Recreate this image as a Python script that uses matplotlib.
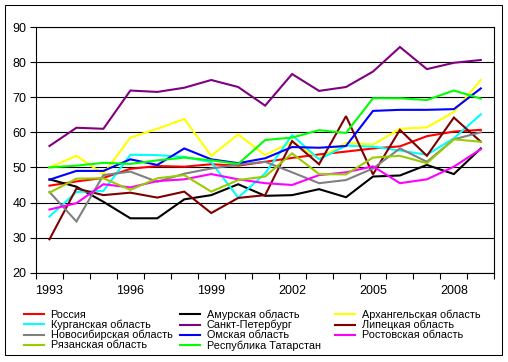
#!/usr/bin/env python3
"""Line chart: regional indicator, 1993-2009."""
import matplotlib
matplotlib.use('Agg')
import matplotlib.pyplot as plt
from matplotlib.lines import Line2D
from matplotlib.patches import Rectangle

plt.rcParams['font.family'] = ['Liberation Sans', 'DejaVu Sans']

years = list(range(1993, 2010))
tick_years = [1993, 1996, 1999, 2002, 2005, 2008]

names = ['Россия', 'Амурская область', 'Архангельская область',
         'Курганская область', 'Санкт-Петербург', 'Липецкая область',
         'Новосибирская область', 'Омская область', 'Ростовская область',
         'Рязанская область', 'Республика Татарстан']

russia   = [44.8, 46.0, 47.0, 49.6, 50.4, 50.2, 50.9, 50.5, 51.6, 52.7, 53.7, 54.5, 55.4, 56.0, 58.9, 60.2, 60.7]
amur     = [46.6, 44.5, 40.2, 35.5, 35.5, 40.9, 42.1, 45.2, 41.9, 42.1, 43.8, 41.5, 47.4, 47.7, 50.7, 48.1, 55.4]
arkh     = [50.0, 53.3, 48.1, 58.5, 61.0, 63.8, 53.3, 59.4, 53.5, 57.3, 52.5, 57.0, 56.5, 61.0, 61.4, 65.8, 74.9]
kurgan   = [36.0, 43.0, 43.3, 53.6, 53.5, 53.0, 51.5, 41.4, 48.3, 59.2, 52.3, 56.2, 55.9, 54.8, 53.6, 58.3, 65.1]
spb      = [56.1, 61.3, 61.0, 71.9, 71.5, 72.7, 74.9, 72.9, 67.6, 76.6, 71.8, 72.9, 77.3, 84.3, 78.0, 79.8, 80.6]
lipetsk  = [29.5, 44.0, 42.1, 42.8, 41.4, 43.1, 37.0, 41.3, 42.1, 57.5, 50.9, 64.6, 48.0, 60.7, 53.3, 64.2, 57.3]
novosib  = [43.0, 34.6, 47.8, 48.8, 45.9, 48.2, 49.7, 50.8, 51.6, 48.6, 45.5, 46.4, 49.7, 55.4, 51.6, 58.0, 60.0]
omsk     = [46.5, 49.0, 49.0, 52.3, 50.7, 55.4, 52.3, 51.2, 52.6, 55.8, 55.6, 56.1, 66.1, 66.4, 66.4, 66.6, 72.5]
rostov   = [38.0, 39.8, 45.2, 44.3, 46.1, 46.6, 48.1, 46.6, 45.5, 45.0, 47.8, 48.6, 50.3, 45.5, 46.6, 50.2, 55.2]
ryazan   = [42.8, 46.8, 46.9, 43.6, 46.9, 47.8, 43.1, 46.4, 47.4, 54.0, 48.1, 48.0, 52.8, 53.3, 51.2, 58.0, 57.3]
tatar    = [50.0, 50.5, 51.3, 51.0, 52.0, 52.8, 52.0, 51.0, 57.8, 58.5, 60.6, 59.8, 69.7, 69.7, 69.2, 71.9, 69.6]

series = [russia, amur, arkh, kurgan, spb, lipetsk, novosib, omsk, rostov, ryazan, tatar]
colors = ['#FF0000', '#000000', '#FFFF00', '#00FFFF', '#800080', '#800000',
          '#808080', '#0000FF', '#FF00FF', '#99CC00', '#00FF00']

W, H = 508, 362
fig = plt.figure(figsize=(W / 100, H / 100), dpi=100)
fig.patch.set_facecolor('white')

# outer frame of the chart area
fig.patches.append(Rectangle((5 / W, 1 - 355 / H), 497 / W, 350 / H,
                             transform=fig.transFigure, fill=False,
                             edgecolor='black', lw=0.75))

ax = fig.add_axes([36 / W, 1 - 272.7 / H, (494.3 - 36) / W, (272.7 - 27) / H])

x = list(range(len(years)))
for vals, c in zip(series, colors):
    ax.plot(x, vals, color=c, lw=1.5, solid_joinstyle='miter')

ax.set_ylim(20, 90)
ax.set_yticks(range(20, 91, 10))
ax.grid(axis='y', color='black', lw=0.8)
ax.set_axisbelow(True)
ax.set_xlim(-0.5, len(years) - 0.5)

# category axis: ticks between categories, labels every third year
ax.set_xticks([i - 0.5 for i in range(len(years) + 1)])
ax.set_xticklabels([])
ax.set_xticks([years.index(y) for y in tick_years], minor=True)
ax.set_xticklabels([str(y) for y in tick_years], minor=True)
ax.tick_params(axis='x', which='major', direction='out', length=4, width=0.8)
ax.tick_params(axis='x', which='minor', length=0, pad=9, labelsize=9)
ax.tick_params(axis='y', direction='out', length=4, width=0.8, pad=3, labelsize=9)

for s in ax.spines.values():
    s.set_color('black')
    s.set_linewidth(0.8)

# legend, laid out row by row in three columns
handles = [Line2D([], [], color=c, lw=1.5) for c in colors]
col_x = [24, 180, 335]
for j in range(3):
    idx = list(range(j, len(names), 3))
    fig.legend([handles[i] for i in idx], [names[i] for i in idx],
               loc='upper left', bbox_to_anchor=(col_x[j] / W, 1 - 309.5 / H),
               frameon=False, fontsize=7.8, handlelength=1.85,
               handletextpad=0.6, labelspacing=0.0, borderaxespad=0,
               borderpad=0)

fig.savefig('out.png', dpi=100, facecolor='white')
plt.close()
